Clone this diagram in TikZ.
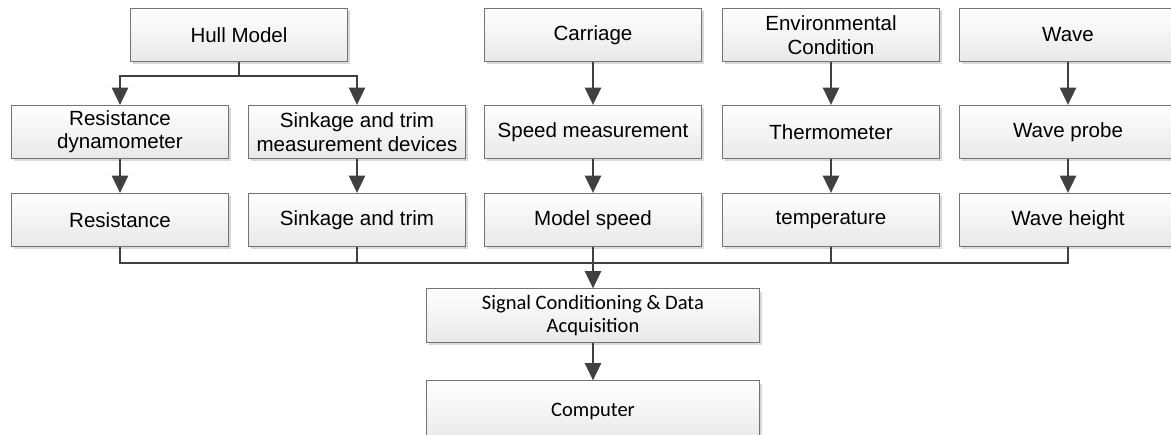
\documentclass[tikz,border=0pt]{standalone}
\usepackage{fontspec}
\setmainfont{Liberation Sans}
\newfontfamily\calibri{Carlito}
\usepackage{tikz}
\usetikzlibrary{arrows.meta,shadows}

\begin{document}
\begin{tikzpicture}[x=0.75pt,y=-0.75pt,
    blockbox/.style={draw=black!55,line width=0.6pt,top color=white,bottom color=black!9,
        drop shadow={shadow xshift=2pt,shadow yshift=-2pt,fill=black!15,opacity=1},
        minimum width=162.5pt,minimum height=40pt,inner sep=0pt,align=center,
        font=\fontsize{15.4}{17.5}\selectfont},
    daqbox/.style={blockbox,minimum width=250pt,font=\calibri\fontsize{15.4}{17.5}\selectfont},
    link/.style={draw=black!75,line width=2pt},
    flow/.style={link,-{Triangle[length=13pt,width=12pt]}}]
    \clip (0,0) rectangle (1171,435);
    \useasboundingbox (0,0) rectangle (1171,435);
    \node[blockbox] (hull) at (239,35) {Hull Model};
    \node[blockbox] (carriage) at (593,35) {Carriage};
    \node[blockbox] (env) at (831,35) {Environmental\\Condition};
    \node[blockbox] (wave) at (1068,35) {Wave};
    \node[blockbox] (dyno) at (120,132) {Resistance\\dynamometer};
    \node[blockbox] (trimdev) at (357,132) {Sinkage and trim\\measurement devices};
    \node[blockbox] (speedmeas) at (593,132) {Speed measurement};
    \node[blockbox] (thermo) at (831,132) {Thermometer};
    \node[blockbox] (probe) at (1068,132) {Wave probe};
    \node[blockbox] (resist) at (120,220) {Resistance};
    \node[blockbox] (trim) at (357,220) {Sinkage and trim};
    \node[blockbox] (speed) at (593,220) {Model speed};
    \node[blockbox] (temp) at (831,220) {temperature};
    \node[blockbox] (height) at (1068,220) {Wave height};
    \node[daqbox] (daq) at (593,315.5) {Signal Conditioning \& Data\\Acquisition};
    \node[daqbox,minimum height=46pt] (computer) at (593,411.5) {Computer};
    \coordinate (split) at (239,76);
    \coordinate (bus) at (593,263);
    \draw[link] (hull) -- (split);
    \draw[flow] (split) -| (dyno);
    \draw[flow] (split) -| (trimdev);
    \draw[flow] (carriage) -- (speedmeas);
    \draw[flow] (env) -- (thermo);
    \draw[flow] (wave) -- (probe);
    \draw[flow] (dyno) -- (resist);
    \draw[flow] (trimdev) -- (trim);
    \draw[flow] (speedmeas) -- (speed);
    \draw[flow] (thermo) -- (temp);
    \draw[flow] (probe) -- (height);
    \draw[link] (resist) |- (bus);
    \draw[link] (trim) |- (bus);
    \draw[link] (temp) |- (bus);
    \draw[link] (height) |- (bus);
    \draw[link] (speed) -- (bus);
    \draw[flow] (bus) -- (daq);
    \draw[flow] (daq) -- (computer);
\end{tikzpicture}
\end{document}
